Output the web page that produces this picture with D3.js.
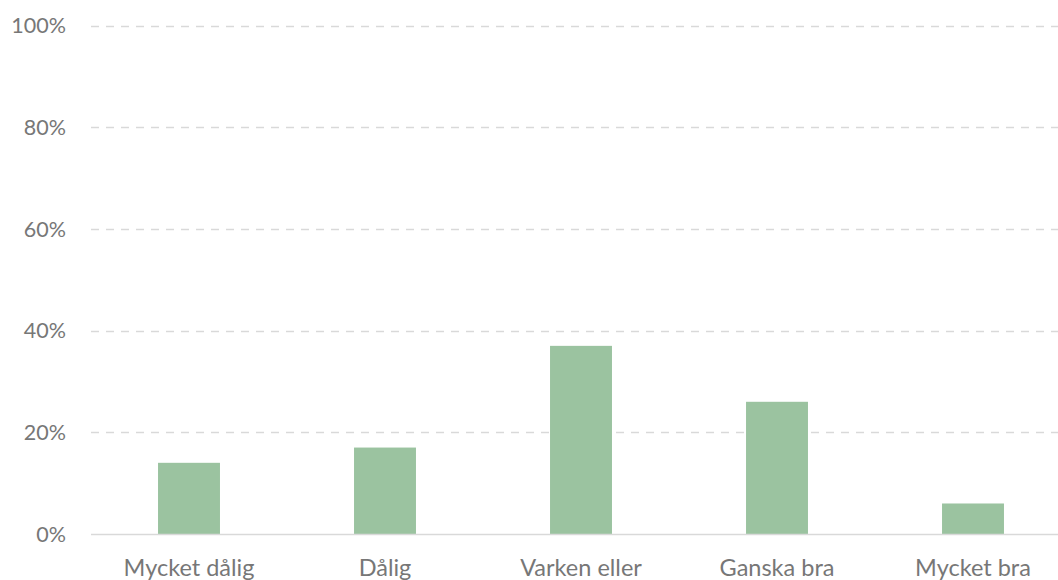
<!DOCTYPE html>
<html lang="sv">
<head>
<meta charset="UTF-8">
<title>Chart</title>
<script src="https://cdn.jsdelivr.net/npm/d3@7"></script>
<style>
    body { margin: 0; background: #fff; }
    svg { display: block; }
    text { font-family: Lato, "Open Sans", sans-serif; fill: #777777; }
</style>
</head>
<body>
<svg width="1058" height="580"></svg>
<script>
const categories = ["Mycket dålig", "Dålig", "Varken eller", "Ganska bra", "Mycket bra"];
const values = [0.14, 0.17, 0.37, 0.26, 0.06];
const yTicks = [0, 0.2, 0.4, 0.6, 0.8, 1.0];

const svg = d3.select("svg");

// plot runs a bit past the right edge, like the original
const x = d3.scaleBand()
    .domain(categories)
    .range([91, 1071])
    .paddingInner(0.684)
    .paddingOuter(0.342);

const y = d3.scaleLinear()
    .domain([0, 1])
    .range([534, 25.5]);

// gridlines
svg.append("g")
    .selectAll("line")
    .data(yTicks.filter(d => d > 0))
    .enter().append("line")
    .attr("x1", 91)
    .attr("x2", 1071)
    .attr("y1", d => Math.round(y(d)) + 0.5)
    .attr("y2", d => Math.round(y(d)) + 0.5)
    .attr("stroke", "#d9d9d9")
    .attr("stroke-width", 1.3)
    .attr("stroke-dasharray", "8,7");

// bars
svg.append("g")
    .selectAll("rect")
    .data(values)
    .enter().append("rect")
    .attr("x", (d, i) => x(categories[i]))
    .attr("width", x.bandwidth())
    .attr("y", d => y(d))
    .attr("height", d => y(0) - y(d))
    .attr("fill", "#9bc3a0");

// baseline
svg.append("line")
    .attr("x1", 91)
    .attr("x2", 1071)
    .attr("y1", y(0) + 0.5)
    .attr("y2", y(0) + 0.5)
    .attr("stroke", "#d9d9d9")
    .attr("stroke-width", 1.3);

// y labels
svg.append("g")
    .selectAll("text")
    .data(yTicks)
    .enter().append("text")
    .attr("x", 66)
    .attr("y", d => y(d))
    .attr("dy", "0.36em")
    .attr("text-anchor", "end")
    .attr("font-size", 21.5)
    .text(d3.format(".0%"));

// x labels
svg.append("g")
    .selectAll("text")
    .data(categories)
    .enter().append("text")
    .attr("x", d => x(d) + x.bandwidth() / 2)
    .attr("y", 576)
    .attr("text-anchor", "middle")
    .attr("font-size", 23.5)
    .text(d => d);
</script>
</body>
</html>
